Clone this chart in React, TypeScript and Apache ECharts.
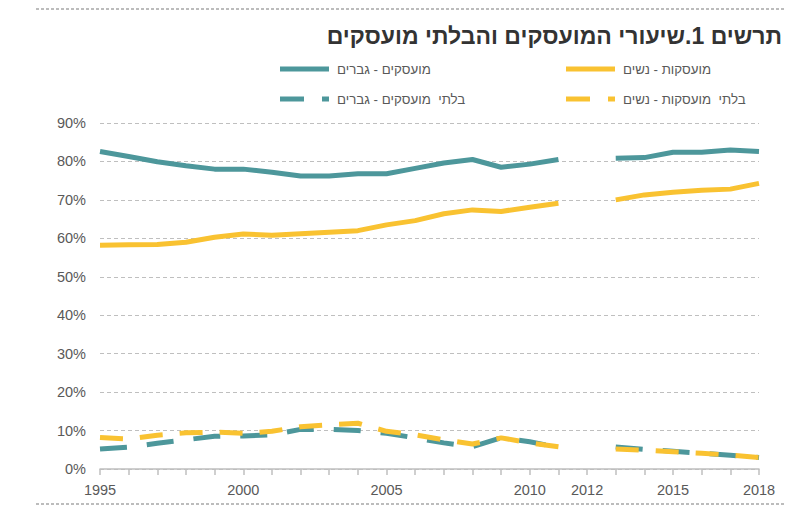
import React, { useEffect, useRef } from "react";
import * as echarts from "echarts";

const years = ["1995","1996","1997","1998","1999","2000","2001","2002","2003","2004","2005","2006","2007","2008","2009","2010","2011","2012","2013","2014","2015","2016","2017","2018"];
const shownYears = ["1995", "2000", "2005", "2010", "2012", "2015", "2018"];

const employedMen = [82.6, 81.3, 79.9, 78.9, 78.0, 78.0, 77.2, 76.2, 76.2, 76.8, 76.8, 78.2, 79.6, 80.5, 78.5, 79.3, 80.5, null, 80.8, 81.0, 82.4, 82.4, 83.0, 82.6];
const employedWomen = [58.2, 58.3, 58.4, 59.0, 60.3, 61.1, 60.8, 61.2, 61.6, 62.0, 63.5, 64.6, 66.4, 67.4, 67.0, 68.1, 69.1, null, 70.0, 71.3, 72.0, 72.5, 72.8, 74.3];
const unemployedMen = [5.2, 5.7, 6.7, 7.6, 8.5, 8.6, 8.9, 10.3, 10.3, 10.0, 9.3, 8.1, 6.8, 5.8, 8.1, 7.1, 5.6, null, 5.7, 5.1, 4.6, 4.1, 3.6, 3.0];
const unemployedWomen = [8.2, 7.8, 8.8, 9.4, 9.6, 9.3, 9.8, 11.0, 11.5, 11.9, 9.8, 8.9, 7.6, 6.5, 8.1, 6.8, 5.8, null, 5.2, 4.9, 4.5, 4.1, 3.6, 3.0];

const seriesNames = ["מועסקים - גברים", "מועסקות - נשים", "בלתי  מועסקים - גברים", "בלתי  מועסקות - נשים"];
const titleText = "תרשים 1.שיעורי המועסקים והבלתי מועסקים";

const TEAL = "#4d979b";
const YELLOW = "#f9c231";
const FONT = "'Liberation Sans', Arial, sans-serif";

export default function App() {
  const ref = useRef<HTMLDivElement>(null);
  useEffect(() => {
    document.body.style.margin = "0";
    if (!ref.current) return;
    const chart = echarts.init(ref.current, null, { renderer: "svg" });
    const legendItem = (x: number, y: number, color: string, dashed: boolean, text: string) => {
      const els: any[] = [];
      if (dashed) {
        els.push({ type: "line", shape: { x1: x, y1: y, x2: x + 24, y2: y }, style: { stroke: color, lineWidth: 5 } });
        els.push({ type: "line", shape: { x1: x + 42, y1: y, x2: x + 49, y2: y }, style: { stroke: color, lineWidth: 5 } });
      } else {
        els.push({ type: "line", shape: { x1: x, y1: y, x2: x + 49, y2: y }, style: { stroke: color, lineWidth: 5 } });
      }
      els.push({
        type: "text", x: x + 57, y: y, style: { text, fill: "#595959", font: `13.3px ${FONT}`, textAlign: "left", textVerticalAlign: "middle" },
      });
      return els;
    };
    chart.setOption({
      animation: false,
      textStyle: { fontFamily: FONT },
      grid: { left: 100, right: 41, top: 123, bottom: 44, containLabel: false },
      xAxis: {
        type: "category",
        data: years,
        boundaryGap: false,
        axisLine: { lineStyle: { color: "#bfbfbf", width: 1.5 } },
        axisTick: { show: true, interval: 0, length: 6, lineStyle: { color: "#bfbfbf", width: 1.5 } },
        axisLabel: {
          interval: (_i: number, v: string) => shownYears.includes(v),
          color: "#595959", fontSize: 14.5, margin: 13, fontFamily: FONT,
        },
        splitLine: { show: false },
      },
      yAxis: {
        type: "value",
        min: 0, max: 90, interval: 10,
        axisLine: { show: false },
        axisTick: { show: false },
        axisLabel: { formatter: "{value}%", color: "#595959", fontSize: 14.5, margin: 14, fontFamily: FONT },
        splitLine: { lineStyle: { color: "#bfbfbf", type: [4, 3], width: 1.2 } },
      },
      series: [
        { name: seriesNames[0], type: "line", data: employedMen, showSymbol: false, connectNulls: false, lineStyle: { color: TEAL, width: 5 }, itemStyle: { color: TEAL }, z: 3 },
        { name: seriesNames[1], type: "line", data: employedWomen, showSymbol: false, connectNulls: false, lineStyle: { color: YELLOW, width: 5 }, itemStyle: { color: YELLOW }, z: 3 },
        { name: seriesNames[2], type: "line", data: unemployedMen, showSymbol: false, connectNulls: false, lineStyle: { color: TEAL, width: 5, type: [27, 20], cap: "butt" }, itemStyle: { color: TEAL }, z: 2 },
        { name: seriesNames[3], type: "line", data: unemployedWomen, showSymbol: false, connectNulls: false, lineStyle: { color: YELLOW, width: 5, type: [23, 17], cap: "butt" }, itemStyle: { color: YELLOW }, z: 3 },
      ],
      graphic: [
        { type: "line", shape: { x1: 36, y1: 9, x2: 785, y2: 9 }, style: { stroke: "#a6a6a6", lineWidth: 1.5, lineDash: [3, 2] } },
        { type: "line", shape: { x1: 36, y1: 504, x2: 785, y2: 504 }, style: { stroke: "#a6a6a6", lineWidth: 1.5, lineDash: [3, 2] } },
        {
          type: "text", x: 782, y: 36,
          style: { text: titleText, fill: "#333333", font: `bold 23px ${FONT}`, textAlign: "right", textVerticalAlign: "middle" },
        },
        ...legendItem(280, 69, TEAL, false, seriesNames[0]),
        ...legendItem(566, 69, YELLOW, false, seriesNames[1]),
        ...legendItem(280, 99, TEAL, true, seriesNames[2]),
        ...legendItem(566, 99, YELLOW, true, seriesNames[3]),
      ],
    });
    return () => chart.dispose();
  }, []);
  return <div ref={ref} style={{ width: 800, height: 513 }} />;
}
